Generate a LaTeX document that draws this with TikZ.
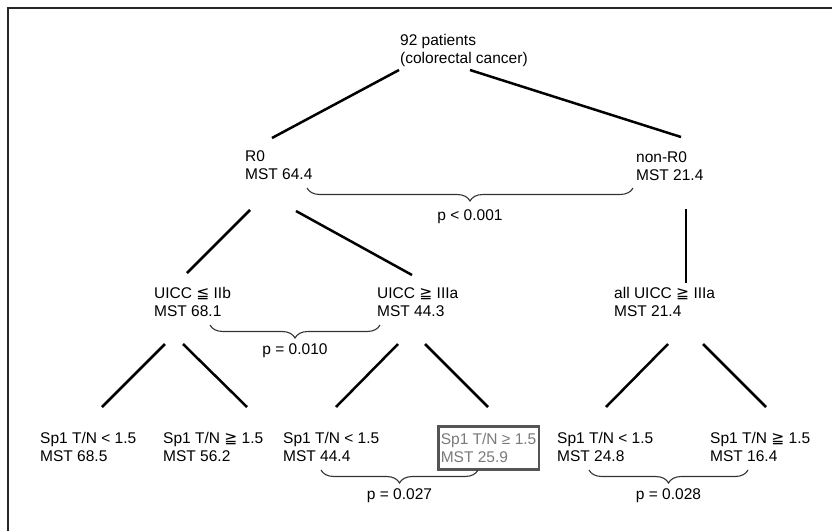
\documentclass[tikz,border=0pt]{standalone}
\usepackage{fontspec}
\setmainfont{Liberation Sans}
\newfontfamily\symfont{DejaVu Sans}
\usepackage{xcolor}
\usepackage{tikz}
\usetikzlibrary{calc, decorations.pathreplacing}
\definecolor{boxgray}{HTML}{555555}
\definecolor{textgray}{HTML}{7A7A7A}
\newcommand{\sleqq}{{\symfont ≦}}
\newcommand{\sgeqq}{{\symfont ≧}}

\begin{document}
\begin{tikzpicture}[
		x=1pt, y=-1pt,
		font=\fontsize{15.5}{18}\selectfont,
		grp/.style={anchor=north west, align=left, inner sep=0pt},
		hilite/.style={anchor=north west, align=left, draw=boxgray,
			line width=2.6pt, text=textgray, inner xsep=2.5pt, inner ysep=7pt},
		edge/.style={line width=2.5pt, black},
		pbrace/.style={draw=black!80, line width=1.1pt,
			decorate, decoration={brace, mirror, amplitude=13pt}},
		plabel/.style={midway, below=#1, inner sep=0pt},
		plabel/.default=18pt
		]
		\useasboundingbox (0,0) rectangle (832,530);
		%--- frame ----------------------------------------------------------------
		\draw[line width=1.8pt, black!85] (8,545) -- (8,8) -- (845,8);
		
		%--- root and first split --------------------------------------------------
		\node[grp] (root) at (400,34) {92 patients\\(colorectal cancer)};
		\node[grp] (r0) at (245,150) {R0\\MST 64.4};
		\node[grp] (nonr0) at (636,151) {non-R0\\MST 21.4};
		
		%--- UICC stage -----------------------------------------------------------
		\node[grp] (early) at (154,287) {UICC \sleqq{} IIb\\MST 68.1};
		\node[grp] (late) at (377,287) {UICC \sgeqq{} IIIa\\MST 44.3};
		\node[grp] (alllate) at (614,287) {all UICC \sgeqq{} IIIa\\MST 21.4};
		
		%--- Sp1 T/N ratio --------------------------------------------------------
		\node[grp] (earlylo) at (40,432) {Sp1 T/N < 1.5\\MST 68.5};
		\node[grp] (earlyhi) at (163,432) {Sp1 T/N \sgeqq{} 1.5\\MST 56.2};
		\node[grp] (latelo) at (283,432) {Sp1 T/N < 1.5\\MST 44.4};
		\node[hilite] (latehi) at (437,425) {Sp1 T/N ≥ 1.5\\MST 25.9};
		\node[grp] (alllo) at (557,432) {Sp1 T/N < 1.5\\MST 24.8};
		\node[grp] (allhi) at (710,432) {Sp1 T/N \sgeqq{} 1.5\\MST 16.4};
		
		%--- tree edges -----------------------------------------------------------
		\draw[edge] ($(root.north west)+(-1,36)$) -- ($(r0.north west)+(27,-12)$);
		\draw[edge] ($(root.north west)+(70,36)$) -- ($(nonr0.north west)+(45,-14)$);
		
		\draw[edge] ($(r0.north west)+(5,60)$) -- ($(early.north west)+(33,-14)$);
		\draw[edge] ($(r0.north west)+(51,61)$) -- ($(late.north west)+(35,-12)$);
		\draw[edge] ($(nonr0.north west)+(50,58)$) -- ($(alllate.north west)+(72,-4)$);
		
		\draw[edge] ($(early.north west)+(11,57)$) -- ($(earlylo.north west)+(62,-25)$);
		\draw[edge] ($(early.north west)+(29,57)$) -- ($(earlyhi.north west)+(84,-25)$);
		\draw[edge] ($(late.north west)+(21,57)$) -- ($(latelo.north west)+(53,-25)$);
		\draw[edge] ($(late.north west)+(48,57)$) -- ($(latehi.north west)+(51,-18)$);
		\draw[edge] ($(alllate.north west)+(54,57)$) -- ($(alllo.north west)+(49,-25)$);
		\draw[edge] ($(alllate.north west)+(89,57)$) -- ($(allhi.north west)+(56,-25)$);
		
		%--- p-value braces -------------------------------------------------------
		\draw[pbrace] ($(r0.north west)+(62,38)$) -- ($(nonr0.north west)+(-3,37)$)
		node[plabel=21pt] {p < 0.001};
		\draw[pbrace] ($(early.north west)+(56,38)$) -- ($(late.north west)+(3,38)$)
		node[plabel] {p = 0.010};
		\draw[pbrace] ($(latelo.north west)+(38,38)$) -- ($(latehi.north west)+(41,45)$)
		node[plabel] {p = 0.027};
		\draw[pbrace] ($(alllo.north west)+(32,38)$) -- ($(allhi.north west)+(38,38)$)
		node[plabel] {p = 0.028};
	\end{tikzpicture}
\end{document}
